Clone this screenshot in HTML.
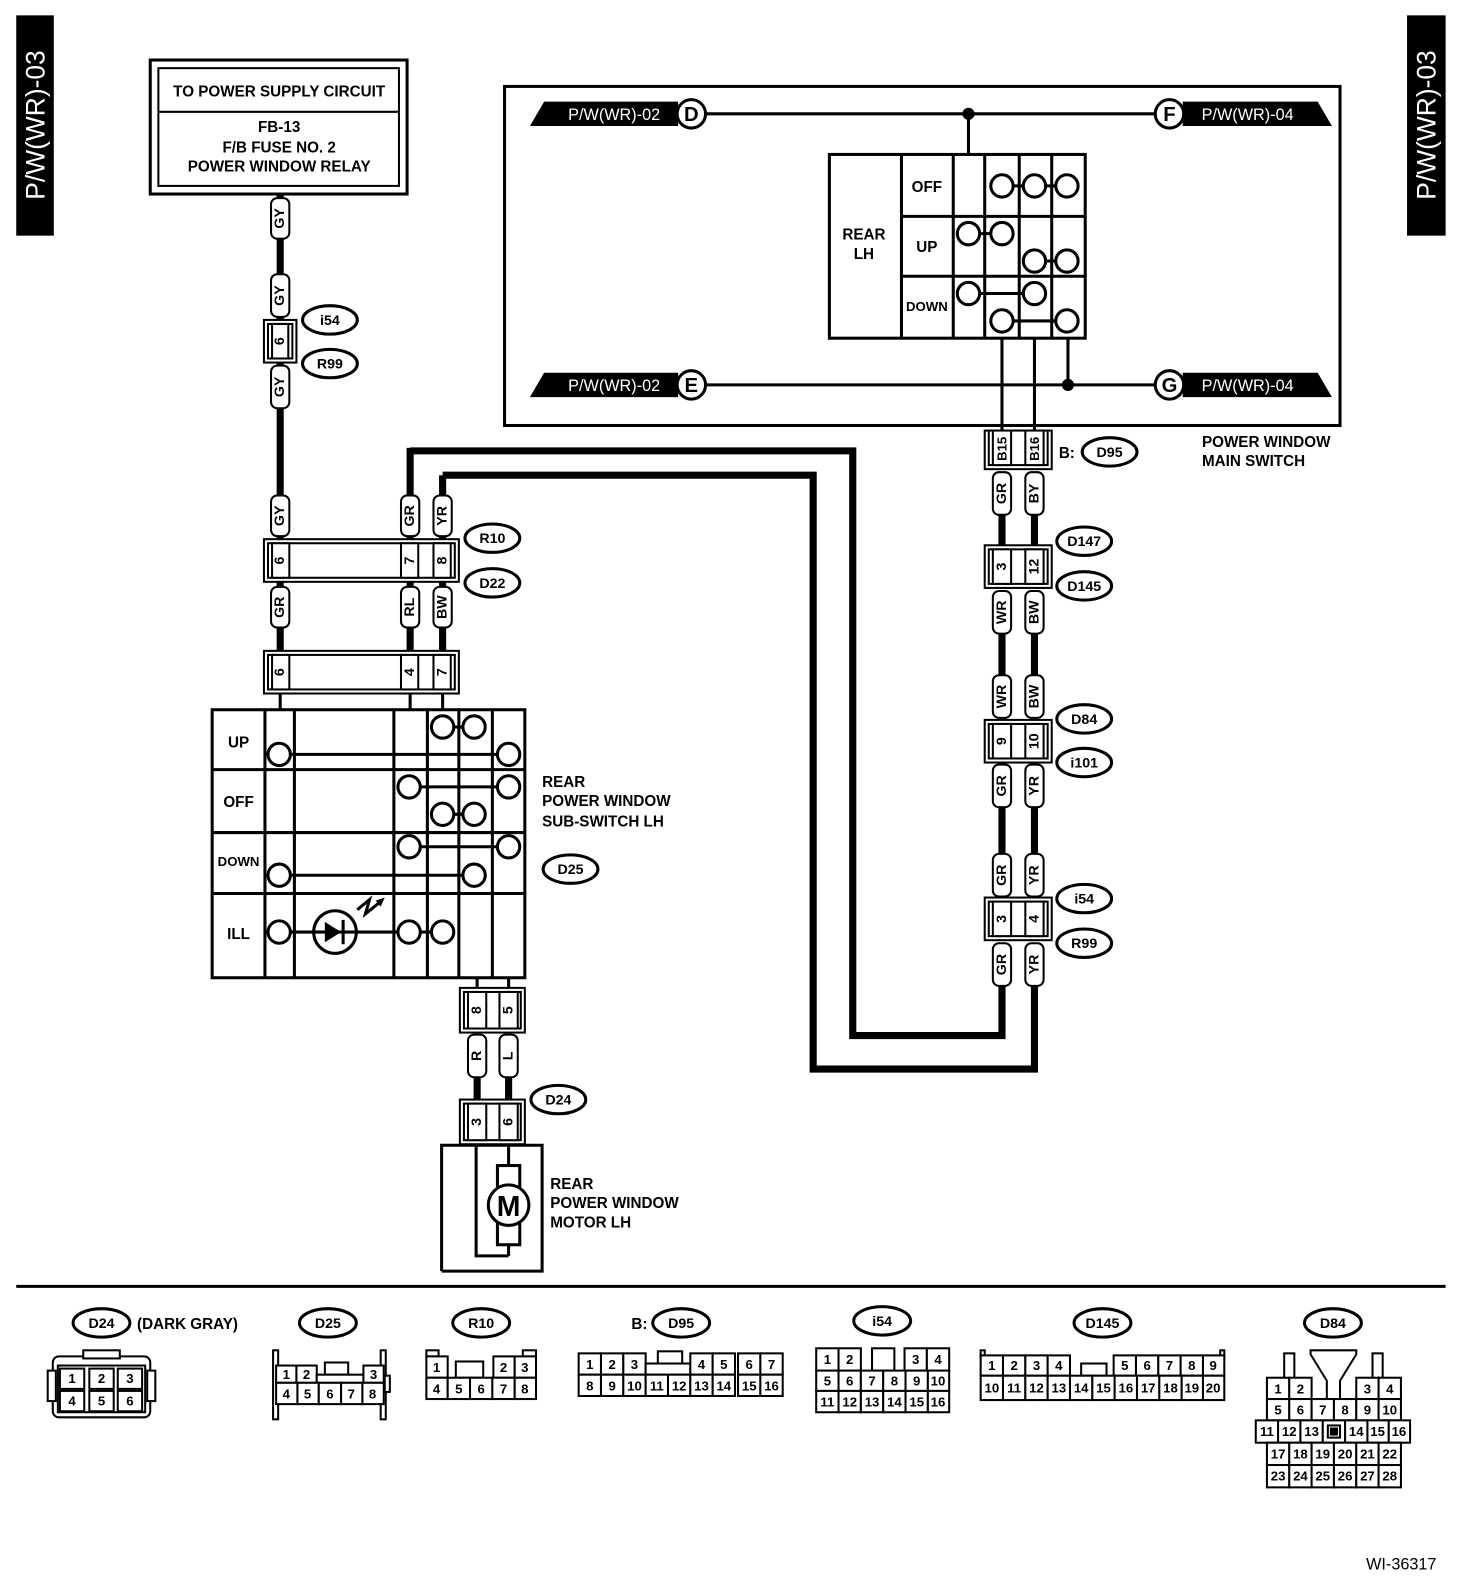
<!DOCTYPE html>
<html><head><meta charset="utf-8"><style>
html,body{margin:0;padding:0;background:#fff;}
svg{display:block;}
text{font-family:"Liberation Sans",sans-serif;font-weight:bold;fill:#000;}
.r{text-anchor:middle;dominant-baseline:central;font-size:14px;}
.n{text-anchor:middle;dominant-baseline:central;font-size:13px;font-weight:normal;}
.l{font-size:15px;}
.o{fill:#fff;stroke:#000;stroke-width:3;}
.s{fill:#fff;stroke:#000;stroke-width:2;}
.k{fill:none;stroke:#000;stroke-width:3;}
.t{stroke:#000;stroke-width:7;fill:none;}
.c{fill:#fff;stroke:#000;stroke-width:3;}
.w{fill:none;stroke:#000;stroke-width:3;}
</style></head><body>
<svg width="1472" height="1588" viewBox="0 0 1450 1564" xmlns="http://www.w3.org/2000/svg">
<!-- side labels -->
<rect x="16" y="15" width="37" height="217" fill="#000"/>
<text transform="translate(35,123) rotate(-90)" style="fill:#fff;font-size:26px;font-weight:normal" text-anchor="middle" dominant-baseline="central">P/W(WR)-03</text>
<rect x="1386" y="15" width="38" height="217" fill="#000"/>
<text transform="translate(1405,123) rotate(-90)" style="fill:#fff;font-size:26px;font-weight:normal" text-anchor="middle" dominant-baseline="central">P/W(WR)-03</text>

<!-- power supply box -->
<rect x="148" y="59" width="253" height="132" class="k"/>
<rect x="156" y="67" width="237" height="116" class="s"/>
<line x1="156" y1="110" x2="393" y2="110" stroke="#000" stroke-width="2"/>
<text x="275" y="95" text-anchor="middle" class="l">TO POWER SUPPLY CIRCUIT</text>
<text x="275" y="130" text-anchor="middle" class="l">FB-13</text>
<text x="275" y="150" text-anchor="middle" class="l">F/B FUSE NO. 2</text>
<text x="275" y="169" text-anchor="middle" class="l">POWER WINDOW RELAY</text>

<!-- left GY wire -->
<line x1="276" y1="191" x2="276" y2="532" class="t"/>
<line x1="404" y1="441" x2="404" y2="532" class="t"/>
<line x1="436" y1="468" x2="436" y2="532" class="t"/>
<polyline points="404,444 840,444 840,1020 987,1020 987,970" class="t"/>
<polyline points="436,468 801,468 801,1053 1019,1053 1019,970" class="t"/>
<line x1="276" y1="573" x2="276" y2="641" class="t"/>
<line x1="404" y1="573" x2="404" y2="641" class="t"/>
<line x1="436" y1="573" x2="436" y2="641" class="t"/>

<!-- wire labels left -->
<g>
<rect x="267" y="195" width="18" height="40" rx="6" class="s"/><text class="r" transform="translate(276,215) rotate(-90)">GY</text>
<rect x="267" y="270" width="18" height="42" rx="6" class="s"/><text class="r" transform="translate(276,291) rotate(-90)">GY</text>
<rect x="267" y="360" width="18" height="42" rx="6" class="s"/><text class="r" transform="translate(276,381) rotate(-90)">GY</text>
<rect x="267" y="488" width="18" height="40" rx="6" class="s"/><text class="r" transform="translate(276,508) rotate(-90)">GY</text>
<rect x="395" y="488" width="18" height="40" rx="6" class="s"/><text class="r" transform="translate(404,508) rotate(-90)">GR</text>
<rect x="427" y="488" width="18" height="40" rx="6" class="s"/><text class="r" transform="translate(436,508) rotate(-90)">YR</text>
<rect x="267" y="578" width="18" height="40" rx="6" class="s"/><text class="r" transform="translate(276,598) rotate(-90)">GR</text>
<rect x="395" y="578" width="18" height="40" rx="6" class="s"/><text class="r" transform="translate(404,598) rotate(-90)">RL</text>
<rect x="427" y="578" width="18" height="40" rx="6" class="s"/><text class="r" transform="translate(436,598) rotate(-90)">BW</text>
</g>

<!-- i54/R99 left connector -->
<rect x="260" y="315" width="32" height="42" class="s"/>
<rect x="264" y="319" width="24" height="34" class="s"/>
<rect x="268" y="319" width="16" height="34" class="s"/>
<text class="r" transform="translate(276,336) rotate(-90)">6</text>
<ellipse cx="325" cy="315" rx="27" ry="14" class="c"/><text x="325" y="316" class="r">i54</text>
<ellipse cx="325" cy="358" rx="27" ry="14" class="c"/><text x="325" y="359" class="r">R99</text>

<!-- R10/D22 connector -->
<rect x="260" y="531" width="192" height="42" class="s"/>
<rect x="264" y="535" width="184" height="34" class="s"/>
<rect x="268" y="535" width="17" height="34" class="s"/><text class="r" transform="translate(276,552) rotate(-90)">6</text>
<rect x="395" y="535" width="17" height="34" class="s"/><text class="r" transform="translate(404,552) rotate(-90)">7</text>
<rect x="427" y="535" width="17" height="34" class="s"/><text class="r" transform="translate(436,552) rotate(-90)">8</text>
<ellipse cx="485" cy="530" rx="27" ry="14" class="c"/><text x="485" y="531" class="r">R10</text>
<ellipse cx="485" cy="574" rx="27" ry="14" class="c"/><text x="485" y="575" class="r">D22</text>

<!-- D25 pins connector -->
<rect x="260" y="641" width="192" height="42" class="s"/>
<rect x="264" y="645" width="184" height="34" class="s"/>
<rect x="268" y="645" width="17" height="34" class="s"/><text class="r" transform="translate(276,662) rotate(-90)">6</text>
<rect x="395" y="645" width="17" height="34" class="s"/><text class="r" transform="translate(404,662) rotate(-90)">4</text>
<rect x="427" y="645" width="17" height="34" class="s"/><text class="r" transform="translate(436,662) rotate(-90)">7</text>
<line x1="276" y1="683" x2="276" y2="699" stroke="#000" stroke-width="3"/>
<line x1="404" y1="683" x2="404" y2="699" stroke="#000" stroke-width="3"/>
<line x1="436" y1="683" x2="436" y2="699" stroke="#000" stroke-width="3"/>

<!-- sub switch -->
<rect x="209" y="699" width="308" height="264" class="k"/>
<g stroke="#000" stroke-width="3">
<line x1="261" y1="699" x2="261" y2="963"/><line x1="290" y1="699" x2="290" y2="963"/>
<line x1="388" y1="699" x2="388" y2="963"/><line x1="421" y1="699" x2="421" y2="963"/>
<line x1="452" y1="699" x2="452" y2="963"/><line x1="485" y1="699" x2="485" y2="963"/>
<line x1="209" y1="758" x2="517" y2="758"/><line x1="209" y1="820" x2="517" y2="820"/><line x1="209" y1="880" x2="517" y2="880"/>
<line x1="436" y1="716" x2="467" y2="716"/><line x1="275" y1="743" x2="501" y2="743"/>
<line x1="403" y1="775" x2="501" y2="775"/><line x1="436" y1="802" x2="467" y2="802"/>
<line x1="403" y1="834" x2="501" y2="834"/><line x1="275" y1="862" x2="467" y2="862"/>
<line x1="275" y1="918" x2="436" y2="918"/>
</g>
<g class="c">
<circle cx="436" cy="716" r="11"/><circle cx="467" cy="716" r="11"/>
<circle cx="275" cy="743" r="11"/><circle cx="501" cy="743" r="11"/>
<circle cx="403" cy="775" r="11"/><circle cx="501" cy="775" r="11"/>
<circle cx="436" cy="802" r="11"/><circle cx="467" cy="802" r="11"/>
<circle cx="403" cy="834" r="11"/><circle cx="501" cy="834" r="11"/>
<circle cx="275" cy="862" r="11"/><circle cx="467" cy="862" r="11"/>
<circle cx="275" cy="918" r="11"/><circle cx="403" cy="918" r="11"/><circle cx="436" cy="918" r="11"/>
<circle cx="330" cy="918" r="21"/>
</g>
<line x1="310" y1="918" x2="350" y2="918" stroke="#000" stroke-width="3"/>
<polygon points="320,908 320,928 336,918" fill="#000"/>
<line x1="338" y1="906" x2="338" y2="930" stroke="#000" stroke-width="3"/>
<polyline points="352,896 364,886 360,900 375,888" fill="none" stroke="#000" stroke-width="3"/>
<polygon points="379,884 370,887 375,893" fill="#000"/>
<text x="235" y="736" text-anchor="middle" class="l">UP</text>
<text x="235" y="795" text-anchor="middle" class="l">OFF</text>
<text x="235" y="853" text-anchor="middle" style="font-size:13px">DOWN</text>
<text x="235" y="925" text-anchor="middle" class="l">ILL</text>
<text x="534" y="775" class="l">REAR</text>
<text x="534" y="794" class="l">POWER WINDOW</text>
<text x="534" y="814" class="l">SUB-SWITCH LH</text>
<ellipse cx="562" cy="856" rx="27" ry="14" class="c"/><text x="562" y="857" class="r">D25</text>

<!-- D24 side -->
<line x1="470" y1="963" x2="470" y2="975" stroke="#000" stroke-width="3"/>
<line x1="501" y1="963" x2="501" y2="975" stroke="#000" stroke-width="3"/>
<rect x="453" y="973" width="64" height="44" class="s"/>
<rect x="457" y="977" width="56" height="36" class="s"/>
<rect x="461" y="977" width="18" height="36" class="s"/><text class="r" transform="translate(470,995) rotate(-90)">8</text>
<rect x="492" y="977" width="18" height="36" class="s"/><text class="r" transform="translate(501,995) rotate(-90)">5</text>
<line x1="470" y1="1060" x2="470" y2="1085" class="t"/>
<line x1="501" y1="1060" x2="501" y2="1085" class="t"/>
<rect x="461" y="1019" width="18" height="42" rx="6" class="s"/><text class="r" transform="translate(470,1040) rotate(-90)">R</text>
<rect x="492" y="1019" width="18" height="42" rx="6" class="s"/><text class="r" transform="translate(501,1040) rotate(-90)">L</text>
<rect x="453" y="1083" width="64" height="44" class="s"/>
<rect x="457" y="1087" width="56" height="36" class="s"/>
<rect x="461" y="1087" width="18" height="36" class="s"/><text class="r" transform="translate(470,1105) rotate(-90)">3</text>
<rect x="492" y="1087" width="18" height="36" class="s"/><text class="r" transform="translate(501,1105) rotate(-90)">6</text>
<ellipse cx="550" cy="1083" rx="27" ry="14" class="c"/><text x="550" y="1084" class="r">D24</text>
<polyline points="435,1252 435,1128 534,1128 534,1252 435,1252" class="w"/>
<polyline points="469,1128 469,1237 501,1237" class="w"/>
<line x1="501" y1="1128" x2="501" y2="1237" stroke="#000" stroke-width="3"/>
<rect x="490" y="1148" width="22" height="22" class="c"/>
<rect x="490" y="1204" width="22" height="22" class="c"/>
<circle cx="501" cy="1187" r="20" class="c"/>
<text x="501" y="1189" class="r" style="font-size:28px">M</text>
<text x="542" y="1171" class="l">REAR</text>
<text x="542" y="1190" class="l">POWER WINDOW</text>
<text x="542" y="1209" class="l">MOTOR LH</text>

<!-- main switch frame -->
<rect x="497" y="85" width="823" height="334" class="k"/>
<line x1="681" y1="112" x2="1152" y2="112" stroke="#000" stroke-width="3"/>
<line x1="681" y1="379" x2="1152" y2="379" stroke="#000" stroke-width="3"/>
<polygon points="522,124 536,100 668,100 668,124" fill="#000"/>
<text x="605" y="118" text-anchor="middle" style="fill:#fff;font-size:16px;font-weight:normal">P/W(WR)-02</text>
<polygon points="522,391 536,367 668,367 668,391" fill="#000"/>
<text x="605" y="385" text-anchor="middle" style="fill:#fff;font-size:16px;font-weight:normal">P/W(WR)-02</text>
<polygon points="1165,100 1298,100 1312,124 1165,124" fill="#000"/>
<text x="1229" y="118" text-anchor="middle" style="fill:#fff;font-size:16px;font-weight:normal">P/W(WR)-04</text>
<polygon points="1165,367 1298,367 1312,391 1165,391" fill="#000"/>
<text x="1229" y="385" text-anchor="middle" style="fill:#fff;font-size:16px;font-weight:normal">P/W(WR)-04</text>
<circle cx="681" cy="112" r="14" class="c"/><text x="681" y="113" class="r" style="font-size:20px">D</text>
<circle cx="681" cy="379" r="14" class="c"/><text x="681" y="380" class="r" style="font-size:20px">E</text>
<circle cx="1152" cy="112" r="14" class="c"/><text x="1152" y="113" class="r" style="font-size:20px">F</text>
<circle cx="1152" cy="379" r="14" class="c"/><text x="1152" y="380" class="r" style="font-size:20px">G</text>
<circle cx="954" cy="112" r="6" fill="#000"/>
<circle cx="1052" cy="379" r="6" fill="#000"/>
<line x1="954" y1="112" x2="954" y2="152" stroke="#000" stroke-width="3"/>
<line x1="1052" y1="333" x2="1052" y2="379" stroke="#000" stroke-width="3"/>
<line x1="987" y1="333" x2="987" y2="425" stroke="#000" stroke-width="3"/>
<line x1="1019" y1="333" x2="1019" y2="425" stroke="#000" stroke-width="3"/>
<rect x="817" y="152" width="252" height="181" class="k" fill="#fff"/>
<g stroke="#000" stroke-width="3">
<line x1="888" y1="152" x2="888" y2="333"/><line x1="939" y1="152" x2="939" y2="333"/>
<line x1="970" y1="152" x2="970" y2="333"/><line x1="1004" y1="152" x2="1004" y2="333"/><line x1="1036" y1="152" x2="1036" y2="333"/>
<line x1="888" y1="213" x2="1069" y2="213"/><line x1="888" y1="272" x2="1069" y2="272"/>
<line x1="987" y1="183" x2="1051" y2="183"/><line x1="954" y1="230" x2="987" y2="230"/><line x1="1019" y1="257" x2="1051" y2="257"/>
<line x1="954" y1="289" x2="1019" y2="289"/><line x1="987" y1="316" x2="1051" y2="316"/>
</g>
<g class="c">
<circle cx="987" cy="183" r="11"/><circle cx="1019" cy="183" r="11"/><circle cx="1051" cy="183" r="11"/>
<circle cx="954" cy="230" r="11"/><circle cx="987" cy="230" r="11"/>
<circle cx="1019" cy="257" r="11"/><circle cx="1051" cy="257" r="11"/>
<circle cx="954" cy="289" r="11"/><circle cx="1019" cy="289" r="11"/>
<circle cx="987" cy="316" r="11"/><circle cx="1051" cy="316" r="11"/>
</g>
<text x="851" y="236" text-anchor="middle" class="l">REAR</text>
<text x="851" y="255" text-anchor="middle" class="l">LH</text>
<text x="913" y="189" text-anchor="middle" class="l">OFF</text>
<text x="913" y="248" text-anchor="middle" class="l">UP</text>
<text x="913" y="306" text-anchor="middle" style="font-size:13px">DOWN</text>

<!-- right wires -->
<g class="t">
<line x1="987" y1="505" x2="987" y2="540"/><line x1="1019" y1="505" x2="1019" y2="540"/>
<line x1="987" y1="620" x2="987" y2="670"/><line x1="1019" y1="620" x2="1019" y2="670"/>
<line x1="987" y1="790" x2="987" y2="845"/><line x1="1019" y1="790" x2="1019" y2="845"/>
</g>
<!-- D95 -->
<rect x="970" y="424" width="66" height="38" class="s"/>
<rect x="974" y="424" width="58" height="34" class="s"/>
<rect x="978" y="424" width="18" height="34" class="s"/><text class="r" style="font-size:13px" transform="translate(987,442) rotate(-90)">B15</text>
<rect x="1010" y="424" width="18" height="34" class="s"/><text class="r" style="font-size:13px" transform="translate(1019,442) rotate(-90)">B16</text>
<text x="1043" y="451" class="l">B:</text>
<ellipse cx="1093" cy="445" rx="27" ry="14" class="c"/><text x="1093" y="446" class="r">D95</text>
<text x="1184" y="440" class="l">POWER WINDOW</text>
<text x="1184" y="459" class="l">MAIN SWITCH</text>
<!-- labels -->
<rect x="978" y="465" width="18" height="42" rx="6" class="s"/><text class="r" transform="translate(987,486) rotate(-90)">GR</text>
<rect x="1010" y="465" width="18" height="42" rx="6" class="s"/><text class="r" transform="translate(1019,486) rotate(-90)">BY</text>
<rect x="970" y="537" width="66" height="42" class="s"/>
<rect x="974" y="541" width="58" height="34" class="s"/>
<rect x="978" y="541" width="18" height="34" class="s"/><text class="r" transform="translate(987,558) rotate(-90)">3</text>
<rect x="1010" y="541" width="18" height="34" class="s"/><text class="r" transform="translate(1019,558) rotate(-90)">12</text>
<ellipse cx="1068" cy="533" rx="27" ry="14" class="c"/><text x="1068" y="534" class="r">D147</text>
<ellipse cx="1068" cy="577" rx="27" ry="14" class="c"/><text x="1068" y="578" class="r">D145</text>
<rect x="978" y="582" width="18" height="42" rx="6" class="s"/><text class="r" transform="translate(987,603) rotate(-90)">WR</text>
<rect x="1010" y="582" width="18" height="42" rx="6" class="s"/><text class="r" transform="translate(1019,603) rotate(-90)">BW</text>
<rect x="978" y="665" width="18" height="42" rx="6" class="s"/><text class="r" transform="translate(987,686) rotate(-90)">WR</text>
<rect x="1010" y="665" width="18" height="42" rx="6" class="s"/><text class="r" transform="translate(1019,686) rotate(-90)">BW</text>
<rect x="970" y="709" width="66" height="42" class="s"/>
<rect x="974" y="713" width="58" height="34" class="s"/>
<rect x="978" y="713" width="18" height="34" class="s"/><text class="r" transform="translate(987,730) rotate(-90)">9</text>
<rect x="1010" y="713" width="18" height="34" class="s"/><text class="r" transform="translate(1019,730) rotate(-90)">10</text>
<ellipse cx="1068" cy="708" rx="27" ry="14" class="c"/><text x="1068" y="709" class="r">D84</text>
<ellipse cx="1068" cy="751" rx="27" ry="14" class="c"/><text x="1068" y="752" class="r">i101</text>
<rect x="978" y="753" width="18" height="42" rx="6" class="s"/><text class="r" transform="translate(987,774) rotate(-90)">GR</text>
<rect x="1010" y="753" width="18" height="42" rx="6" class="s"/><text class="r" transform="translate(1019,774) rotate(-90)">YR</text>
<rect x="978" y="841" width="18" height="42" rx="6" class="s"/><text class="r" transform="translate(987,862) rotate(-90)">GR</text>
<rect x="1010" y="841" width="18" height="42" rx="6" class="s"/><text class="r" transform="translate(1019,862) rotate(-90)">YR</text>
<rect x="970" y="884" width="66" height="42" class="s"/>
<rect x="974" y="888" width="58" height="34" class="s"/>
<rect x="978" y="888" width="18" height="34" class="s"/><text class="r" transform="translate(987,905) rotate(-90)">3</text>
<rect x="1010" y="888" width="18" height="34" class="s"/><text class="r" transform="translate(1019,905) rotate(-90)">4</text>
<ellipse cx="1068" cy="885" rx="27" ry="14" class="c"/><text x="1068" y="886" class="r">i54</text>
<ellipse cx="1068" cy="929" rx="27" ry="14" class="c"/><text x="1068" y="930" class="r">R99</text>
<rect x="978" y="929" width="18" height="42" rx="6" class="s"/><text class="r" transform="translate(987,950) rotate(-90)">GR</text>
<rect x="1010" y="929" width="18" height="42" rx="6" class="s"/><text class="r" transform="translate(1019,950) rotate(-90)">YR</text>

<!-- separator -->
<line x1="16" y1="1267" x2="1424" y2="1267" stroke="#000" stroke-width="3"/>

<!-- bottom connectors -->
<g class="s">
<!-- D24 -->
<ellipse cx="100" cy="1303" rx="28" ry="14" class="c"/>
<rect x="52" y="1336" width="96" height="60" rx="6"/>
<rect x="47" y="1350" width="8" height="30"/><rect x="145" y="1350" width="8" height="30"/>
<rect x="82" y="1330" width="36" height="8"/>
<rect x="57" y="1345" width="86" height="46"/>
<rect x="59" y="1348" width="24" height="20"/><rect x="88" y="1348" width="24" height="20"/><rect x="116" y="1348" width="24" height="20"/>
<rect x="59" y="1370" width="24" height="20"/><rect x="88" y="1370" width="24" height="20"/><rect x="116" y="1370" width="24" height="20"/>
<!-- D25 -->
<ellipse cx="323" cy="1303" rx="28" ry="14" class="c"/>
<rect x="269" y="1330" width="5" height="68"/><rect x="375" y="1330" width="5" height="68"/><rect x="379" y="1355" width="5" height="16"/>
<rect x="320" y="1342" width="23" height="12"/>
<rect x="272" y="1345" width="20" height="17"/><rect x="292" y="1345" width="20" height="17"/><rect x="312" y="1354" width="46" height="8"/><rect x="358" y="1345" width="20" height="17"/>
<rect x="272" y="1362" width="21" height="21"/><rect x="293" y="1362" width="21" height="21"/><rect x="314" y="1362" width="22" height="21"/><rect x="336" y="1362" width="21" height="21"/><rect x="357" y="1362" width="21" height="21"/>
<!-- R10 -->
<ellipse cx="474" cy="1303" rx="28" ry="14" class="c"/>
<rect x="420" y="1330" width="12" height="6"/><rect x="515" y="1330" width="13" height="6"/>
<rect x="449" y="1341" width="27" height="16"/>
<rect x="420" y="1336" width="21" height="21"/><rect x="486" y="1336" width="21" height="21"/><rect x="507" y="1336" width="21" height="21"/>
<rect x="420" y="1357" width="21" height="21"/><rect x="441" y="1357" width="22" height="21"/><rect x="463" y="1357" width="22" height="21"/><rect x="485" y="1357" width="22" height="21"/><rect x="507" y="1357" width="21" height="21"/>
<!-- D95 -->
<ellipse cx="671" cy="1303" rx="28" ry="14" class="c"/>
<rect x="648" y="1331" width="24" height="12"/>
<rect x="570" y="1333" width="22" height="21"/><rect x="592" y="1333" width="22" height="21"/><rect x="614" y="1333" width="22" height="21"/>
<rect x="636" y="1343" width="44" height="11"/>
<rect x="680" y="1333" width="22" height="21"/><rect x="702" y="1333" width="22" height="21"/><rect x="727" y="1333" width="22" height="21"/><rect x="749" y="1333" width="22" height="21"/>
<rect x="570" y="1354" width="22" height="21"/><rect x="592" y="1354" width="22" height="21"/><rect x="614" y="1354" width="22" height="21"/><rect x="636" y="1354" width="22" height="21"/><rect x="658" y="1354" width="22" height="21"/><rect x="680" y="1354" width="22" height="21"/><rect x="702" y="1354" width="22" height="21"/><rect x="727" y="1354" width="22" height="21"/><rect x="749" y="1354" width="22" height="21"/>
<!-- i54 -->
<ellipse cx="869" cy="1301" rx="28" ry="14" class="c"/>
<rect x="804" y="1328" width="22" height="22"/><rect x="826" y="1328" width="22" height="22"/>
<rect x="859" y="1328" width="22" height="22"/>
<rect x="891" y="1328" width="22" height="22"/><rect x="913" y="1328" width="22" height="22"/>
<rect x="804" y="1350" width="22" height="20"/><rect x="826" y="1350" width="22" height="20"/><rect x="848" y="1350" width="22" height="20"/><rect x="870" y="1350" width="22" height="20"/><rect x="892" y="1350" width="22" height="20"/><rect x="914" y="1350" width="21" height="20"/>
<rect x="804" y="1370" width="22" height="21"/><rect x="826" y="1370" width="22" height="21"/><rect x="848" y="1370" width="22" height="21"/><rect x="870" y="1370" width="22" height="21"/><rect x="892" y="1370" width="22" height="21"/><rect x="914" y="1370" width="21" height="21"/>
<!-- D145 -->
<ellipse cx="1086" cy="1303" rx="28" ry="14" class="c"/>
<rect x="966" y="1330" width="4" height="8"/><rect x="1202" y="1330" width="4" height="8"/>
<rect x="1065" y="1343" width="25" height="12"/>
<rect x="966" y="1335" width="22" height="20"/><rect x="988" y="1335" width="22" height="20"/><rect x="1010" y="1335" width="22" height="20"/><rect x="1032" y="1335" width="22" height="20"/>
<rect x="1097" y="1335" width="22" height="20"/><rect x="1119" y="1335" width="22" height="20"/><rect x="1141" y="1335" width="22" height="20"/><rect x="1163" y="1335" width="22" height="20"/><rect x="1185" y="1335" width="21" height="20"/>
<rect x="966" y="1355" width="22" height="24"/><rect x="988" y="1355" width="22" height="24"/><rect x="1010" y="1355" width="22" height="24"/><rect x="1032" y="1355" width="22" height="24"/><rect x="1054" y="1355" width="22" height="24"/><rect x="1076" y="1355" width="22" height="24"/><rect x="1098" y="1355" width="22" height="24"/><rect x="1120" y="1355" width="22" height="24"/><rect x="1142" y="1355" width="22" height="24"/><rect x="1164" y="1355" width="21" height="24"/><rect x="1185" y="1355" width="21" height="24"/>
<!-- D84 -->
<ellipse cx="1313" cy="1303" rx="28" ry="14" class="c"/>
<rect x="1265" y="1333" width="10" height="25"/><rect x="1352" y="1333" width="10" height="25"/>
<polygon points="1291,1330 1336,1330 1336,1334 1320,1360 1320,1380 1307,1380 1307,1360 1291,1334"/>
<rect x="1248" y="1357" width="22" height="21"/><rect x="1270" y="1357" width="22" height="21"/><rect x="1336" y="1357" width="22" height="21"/><rect x="1358" y="1357" width="22" height="21"/>
<rect x="1248" y="1378" width="22" height="21"/><rect x="1270" y="1378" width="22" height="21"/><rect x="1292" y="1378" width="22" height="21"/><rect x="1314" y="1378" width="22" height="21"/><rect x="1336" y="1378" width="22" height="21"/><rect x="1358" y="1378" width="22" height="21"/>
<rect x="1237" y="1399" width="22" height="22"/><rect x="1259" y="1399" width="22" height="22"/><rect x="1281" y="1399" width="22" height="22"/><rect x="1303" y="1399" width="22" height="22"/><rect x="1325" y="1399" width="22" height="22"/><rect x="1347" y="1399" width="21" height="22"/><rect x="1368" y="1399" width="21" height="22"/>
<rect x="1308" y="1404" width="12" height="12"/><rect x="1311" y="1407" width="6" height="6" fill="#000"/>
<rect x="1248" y="1421" width="22" height="22"/><rect x="1270" y="1421" width="22" height="22"/><rect x="1292" y="1421" width="22" height="22"/><rect x="1314" y="1421" width="22" height="22"/><rect x="1336" y="1421" width="22" height="22"/><rect x="1358" y="1421" width="22" height="22"/>
<rect x="1248" y="1443" width="22" height="22"/><rect x="1270" y="1443" width="22" height="22"/><rect x="1292" y="1443" width="22" height="22"/><rect x="1314" y="1443" width="22" height="22"/><rect x="1336" y="1443" width="22" height="22"/><rect x="1358" y="1443" width="22" height="22"/>
</g>
<!-- bottom texts -->
<text x="100" y="1304" class="r">D24</text>
<text x="135" y="1309" class="l">(DARK GRAY)</text>
<text x="323" y="1304" class="r">D25</text>
<text x="474" y="1304" class="r">R10</text>
<text x="622" y="1309" class="l">B:</text>
<text x="671" y="1304" class="r">D95</text>
<text x="869" y="1302" class="r">i54</text>
<text x="1086" y="1304" class="r">D145</text>
<text x="1313" y="1304" class="r">D84</text>
<g class="n">
<text x="71" y="1358">1</text><text x="100" y="1358">2</text><text x="128" y="1358">3</text>
<text x="71" y="1380">4</text><text x="100" y="1380">5</text><text x="128" y="1380">6</text>
<text x="282" y="1354">1</text><text x="302" y="1354">2</text><text x="368" y="1354">3</text>
<text x="282" y="1373">4</text><text x="303" y="1373">5</text><text x="325" y="1373">6</text><text x="346" y="1373">7</text><text x="367" y="1373">8</text>
<text x="430" y="1347">1</text><text x="496" y="1347">2</text><text x="517" y="1347">3</text>
<text x="430" y="1368">4</text><text x="452" y="1368">5</text><text x="474" y="1368">6</text><text x="496" y="1368">7</text><text x="517" y="1368">8</text>
<text x="581" y="1344">1</text><text x="603" y="1344">2</text><text x="625" y="1344">3</text><text x="691" y="1344">4</text><text x="713" y="1344">5</text><text x="738" y="1344">6</text><text x="760" y="1344">7</text>
<text x="581" y="1365">8</text><text x="603" y="1365">9</text><text x="625" y="1365">10</text><text x="647" y="1365">11</text><text x="669" y="1365">12</text><text x="691" y="1365">13</text><text x="713" y="1365">14</text><text x="738" y="1365">15</text><text x="760" y="1365">16</text>
<text x="815" y="1339">1</text><text x="837" y="1339">2</text><text x="902" y="1339">3</text><text x="924" y="1339">4</text>
<text x="815" y="1360">5</text><text x="837" y="1360">6</text><text x="859" y="1360">7</text><text x="881" y="1360">8</text><text x="903" y="1360">9</text><text x="924" y="1360">10</text>
<text x="815" y="1381">11</text><text x="837" y="1381">12</text><text x="859" y="1381">13</text><text x="881" y="1381">14</text><text x="903" y="1381">15</text><text x="924" y="1381">16</text>
<text x="977" y="1345">1</text><text x="999" y="1345">2</text><text x="1021" y="1345">3</text><text x="1043" y="1345">4</text>
<text x="1108" y="1345">5</text><text x="1130" y="1345">6</text><text x="1152" y="1345">7</text><text x="1174" y="1345">8</text><text x="1195" y="1345">9</text>
<text x="977" y="1367">10</text><text x="999" y="1367">11</text><text x="1021" y="1367">12</text><text x="1043" y="1367">13</text><text x="1065" y="1367">14</text><text x="1087" y="1367">15</text><text x="1109" y="1367">16</text><text x="1131" y="1367">17</text><text x="1153" y="1367">18</text><text x="1174" y="1367">19</text><text x="1195" y="1367">20</text>
<text x="1259" y="1368">1</text><text x="1281" y="1368">2</text><text x="1347" y="1368">3</text><text x="1369" y="1368">4</text>
<text x="1259" y="1389">5</text><text x="1281" y="1389">6</text><text x="1303" y="1389">7</text><text x="1325" y="1389">8</text><text x="1347" y="1389">9</text><text x="1369" y="1389">10</text>
<text x="1248" y="1410">11</text><text x="1270" y="1410">12</text><text x="1292" y="1410">13</text><text x="1336" y="1410">14</text><text x="1357" y="1410">15</text><text x="1378" y="1410">16</text>
<text x="1259" y="1432">17</text><text x="1281" y="1432">18</text><text x="1303" y="1432">19</text><text x="1325" y="1432">20</text><text x="1347" y="1432">21</text><text x="1369" y="1432">22</text>
<text x="1259" y="1454">23</text><text x="1281" y="1454">24</text><text x="1303" y="1454">25</text><text x="1325" y="1454">26</text><text x="1347" y="1454">27</text><text x="1369" y="1454">28</text>
</g>
<text x="1415" y="1546" text-anchor="end" style="font-size:16px;font-weight:normal">WI-36317</text>
</svg>
</body></html>
